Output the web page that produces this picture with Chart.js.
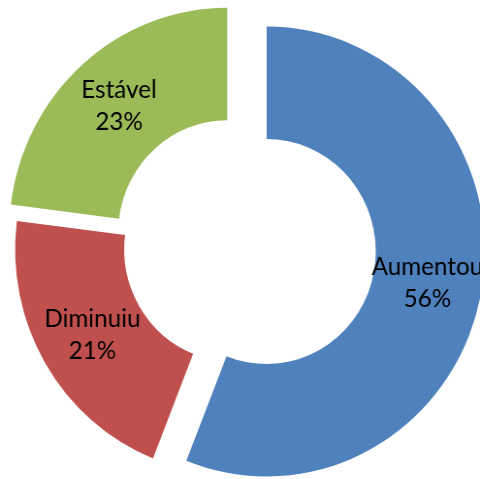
<!DOCTYPE html>
<html>
<head>
<meta charset="utf-8">
<script src="https://cdn.jsdelivr.net/npm/chart.js@4/dist/chart.umd.min.js"></script>
<style>
  html, body { margin: 0; padding: 0; background: #ffffff; overflow: hidden; }
  #wrap { position: relative; width: 480px; height: 479px; overflow: hidden; }
  /* the reference image is slightly compressed horizontally */
  #c { transform: scaleX(0.9697); transform-origin: 0 0; }
</style>
</head>
<body>
<div id="wrap"><canvas id="c" width="495" height="479"></canvas></div>
<script>
// ---- data ----
const categories = ['Aumentou', 'Diminuiu', 'Estável'];
const percentValues = [56, 21, 23];
const sliceColors = ['#4F81BD', '#C0504D', '#9BBB59'];

// ---- explode distances (px) per slice, like Excel's point explosion ----
const explodeDistances = [29.5, 6.3, 17.6];

const explodePlugin = {
  id: 'explodeSlices',
  afterDatasetsUpdate(chart) {
    const area = chart.chartArea;
    const cx = (area.left + area.right) / 2;
    const cy = (area.top + area.bottom) / 2;
    chart.getDatasetMeta(0).data.forEach((arc, i) => {
      const mid = (arc.startAngle + arc.endAngle) / 2;
      const d = explodeDistances[i] || 0;
      arc.x = cx + Math.cos(mid) * d;
      arc.y = cy + Math.sin(mid) * d;
    });
  }
};

const labelPlugin = {
  id: 'sliceLabels',
  afterDatasetsDraw(chart) {
    const ctx = chart.ctx;
    const meta = chart.getDatasetMeta(0);
    const data = chart.data.datasets[0].data;
    const total = data.reduce((a, b) => a + b, 0);
    ctx.save();
    ctx.font = '25px Lato, "Open Sans", sans-serif';
    ctx.fillStyle = '#000000';
    ctx.textAlign = 'center';
    ctx.textBaseline = 'middle';
    meta.data.forEach((arc, i) => {
      const p = arc.getCenterPoint();
      const name = chart.data.labels[i];
      const pct = Math.round(data[i] / total * 100) + '%';
      ctx.fillText(name, p.x, p.y - 16);
      ctx.fillText(pct, p.x, p.y + 16);
    });
    ctx.restore();
  }
};

new Chart(document.getElementById('c'), {
  type: 'doughnut',
  data: {
    labels: categories,
    datasets: [{
      data: percentValues,
      backgroundColor: sliceColors,
      borderWidth: 0,
      clip: false
    }]
  },
  options: {
    responsive: false,
    animation: false,
    radius: 225,
    cutout: '50%',
    layout: { padding: { left: 0, right: 3, top: 13, bottom: 0 } },
    plugins: {
      legend: { display: false },
      tooltip: { enabled: false }
    }
  },
  plugins: [explodePlugin, labelPlugin]
});
</script>
</body>
</html>
